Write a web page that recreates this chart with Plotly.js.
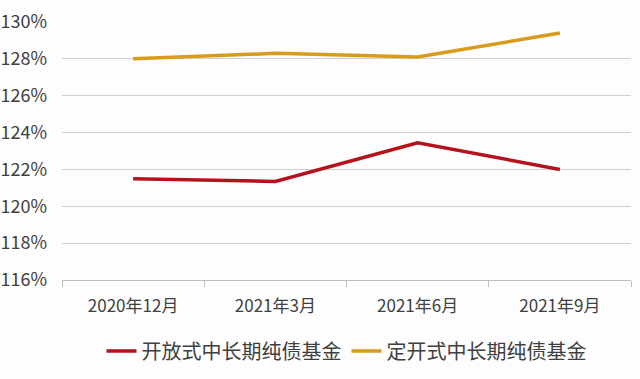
<!DOCTYPE html>
<html>
<head>
<meta charset="utf-8">
<script src="https://cdn.plot.ly/plotly-3.0.1.min.js"></script>
<style>html,body{margin:0;padding:0;background:#fdfdfd;}</style>
</head>
<body>
<div id="chart" style="width:640px;height:379px;"></div>
<script>
const categories = ["2020年12月", "2021年3月", "2021年6月", "2021年9月"];
const openFund = [121.5, 121.35, 123.45, 122.0];
const closedFund = [128.0, 128.3, 128.1, 129.4];
const seriesNames = ["开放式中长期纯债基金", "定开式中长期纯债基金"];

const fontFamily = "'Noto Sans CJK SC', 'Noto Sans', sans-serif";
const numFont = "'Liberation Sans Narrow', 'Noto Sans CJK SC', sans-serif";

const traces = [
  {x: categories, y: openFund, name: seriesNames[0], type: "scatter", mode: "lines",
   line: {color: "#b5121b", width: 3.5}},
  {x: categories, y: closedFund, name: seriesNames[1], type: "scatter", mode: "lines",
   line: {color: "#d89c1a", width: 3.5}}
];

const layout = {
  width: 640, height: 379,
  margin: {l: 62, r: 9, t: 22, b: 96},
  paper_bgcolor: "#fdfdfd", plot_bgcolor: "#fdfdfd",
  font: {family: fontFamily, color: "#404040", size: 15},
  showlegend: true,
  legend: {orientation: "h", x: 0.5, xanchor: "center", y: -0.275, yanchor: "middle",
           font: {size: 20, color: "#404040"}, itemwidth: 30, traceorder: "normal"},
  xaxis: {type: "category", range: [-0.5, 3.5], showgrid: false, showline: true,
          linecolor: "#bfbfbf", linewidth: 1,
          ticks: "outside", tickson: "boundaries", ticklen: 6, tickcolor: "#bfbfbf",
          ticklabelstandoff: 11,
          tickfont: {size: 17, color: "#404040"}, zeroline: false},
  yaxis: {range: [116, 130], dtick: 2, tick0: 116, ticksuffix: "%", showgrid: true,
          gridcolor: "#d0d0d0", gridwidth: 1, zeroline: false, showline: false,
          ticklabelstandoff: 14,
          tickfont: {family: numFont, size: 18, color: "#404040"}, ticklen: 0}
};

Plotly.newPlot("chart", traces, layout, {displayModeBar: false, staticPlot: true});
</script>
</body>
</html>
